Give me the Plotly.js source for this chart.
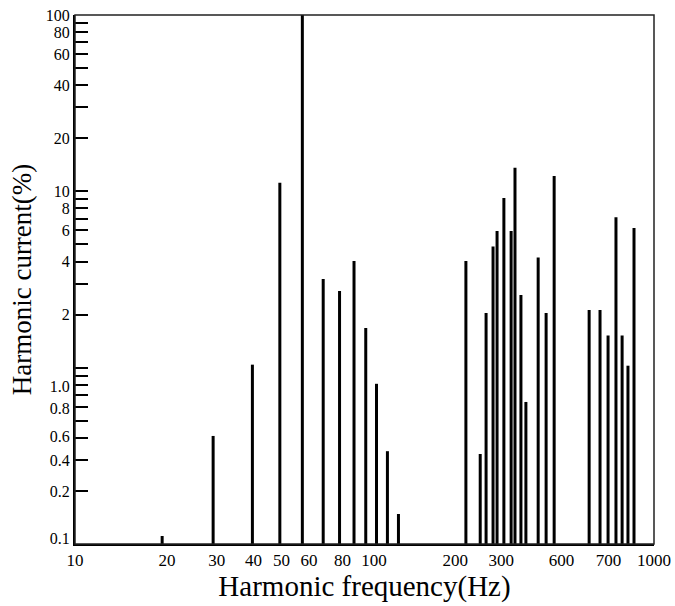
<!DOCTYPE html>
<html>
<head>
<meta charset="utf-8">
<script src="https://cdn.plot.ly/plotly-3.0.1.min.js"></script>
<style>html,body{margin:0;padding:0;background:#fff;}#chart{width:675px;height:606px;}</style>
</head>
<body>
<div id="chart"></div>
<script>
// Harmonic frequencies (Hz)
const freqLow  = [20, 30, 41, 51, 61, 72, 82, 92, 101, 110, 120, 131];
const curLow   = [0.111, 0.41, 1.04, 11.2, 100, 3.18, 2.72, 4.03, 1.68, 0.81, 0.336, 0.148];
const freqMid  = [224, 251, 263, 278, 287, 303, 321, 331, 347, 361, 398, 424, 452];
const curMid   = [4.03, 0.324, 2.04, 4.86, 5.96, 9.17, 5.96, 13.6, 2.58, 0.639, 4.21, 2.04, 12.2];
const freqHigh = [597, 651, 694, 739, 776, 813, 853];
const curHigh  = [2.12, 2.12, 1.52, 7.12, 1.52, 1.026, 6.2];

// Tick labels as printed on the reference
const xLabels = ['10','20','30','40','50','60','80','100','200','300','600','700','1000'];
const yLabels = ['0.1','0.2','0.4','0.6','0.8','1.0','2','4','6','8','10','20','40','60','80','100'];

// where the printed labels sit on the (log) axes
const xLabelPos = [10, 20.8, 30.9, 41.4, 51.7, 64.3, 84, 107.8, 206, 297, 479, 696, 1000];
const yLabelPos = [0.108, 0.2, 0.297, 0.405, 0.59, 0.78, 2, 4, 6, 8, 10, 20, 40, 60, 80, 100];
const yTickMarks = [0.2,0.3,0.4,0.5,0.6,0.7,0.8,0.9,1,2,3,4,5,6,7,8,9,10,20,30,40,50,60,70,80,90];

const freqs = freqLow.concat(freqMid, freqHigh);
const currents = curLow.concat(curMid, curHigh);
const yFloor = 0.05; // below the axis, clipped by the plot area

const xs = [], ys = [];
freqs.forEach((f, i) => { xs.push(f, f, null); ys.push(yFloor, currents[i], null); });

const font = 'Liberation Serif, Times New Roman, serif';

const data = [{
  type: 'scatter', mode: 'lines', x: xs, y: ys,
  line: {color: '#000', width: 3}, hoverinfo: 'skip', showlegend: false
}];

const layout = {
  width: 675, height: 606,
  margin: {l: 75, r: 21, t: 15, b: 62, pad: 0},
  paper_bgcolor: '#fff', plot_bgcolor: '#fff',
  showlegend: false,
  xaxis: {
    type: 'log', range: [1, 3], tickmode: 'array', tickvals: xLabelPos, ticktext: xLabels,
    ticks: '', showgrid: false, zeroline: false,
    showline: true, linecolor: '#000', linewidth: 2,
    tickfont: {family: font, size: 17, color: '#000'},
    title: {text: 'Harmonic frequency(Hz)', font: {family: font, size: 29, color: '#000'}, standoff: 1}
  },
  yaxis: {
    type: 'log', range: [-1, 2], tickmode: 'array', tickvals: yLabelPos, ticktext: yLabels,
    ticks: '', showgrid: false, zeroline: false,
    showline: true, linecolor: '#000', linewidth: 2,
    minor: {tickmode: 'array', tickvals: yTickMarks, ticks: 'inside', ticklen: 13, tickwidth: 2, tickcolor: '#000', showgrid: false},
    tickfont: {family: font, size: 16, color: '#000'},
    title: {text: 'Harmonic current(%)', font: {family: font, size: 27, color: '#000'}, standoff: 6}
  },
  shapes: [{type: 'rect', xref: 'paper', yref: 'paper', x0: 0, x1: 1, y0: 0, y1: 1,
            line: {color: '#222', width: 1.5}, fillcolor: 'rgba(0,0,0,0)'}]
};

Plotly.newPlot('chart', data, layout, {displayModeBar: false, staticPlot: true});
</script>
</body>
</html>
